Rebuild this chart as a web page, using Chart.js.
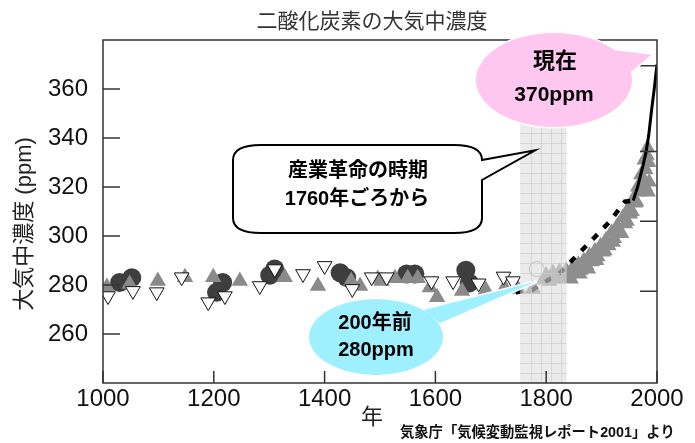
<!DOCTYPE html>
<html lang="ja">
<head>
<meta charset="utf-8">
<title>二酸化炭素の大気中濃度</title>
<script src="https://cdn.jsdelivr.net/npm/chart.js@4.4.1/dist/chart.umd.min.js"></script>
<style>
  html, body { margin: 0; padding: 0; background: #fff; }
  #wrap { width: 695px; height: 443px; }
</style>
</head>
<body>
<div id="wrap"><canvas id="co2Chart" width="695" height="443"></canvas></div>
<script>
// ====== DATA ======
const xTicks = [1000, 1200, 1400, 1600, 1800, 2000];
const yTicks = [260, 280, 300, 320, 340, 360];
const rightTicks = [277.5, 306, 334.5, 369.5];
const bandYears = [1753, 1837];

// ice core, dark circles
const darkYears = [1030, 1052, 1205, 1216, 1301, 1310, 1428, 1440, 1548, 1563, 1655, 1661];
const darkPpm = [281, 283, 277, 281, 284, 286.5, 285, 283, 284.5, 284.5, 286, 280.8];

// ice core, gray triangles
const grayYears = [1007, 1048, 1099, 1148, 1199, 1247, 1328, 1388, 1448, 1464, 1496, 1503, 1527, 1550, 1568, 1590, 1603, 1648, 1691, 1725, 1749, 1776];
const grayPpm = [279.2, 280.4, 281.6, 283.2, 283.2, 281.6, 283.2, 279.6, 281.6, 279.6, 282.4, 281.6, 282.8, 282.8, 282.8, 279, 275, 277.6, 278, 279, 278.4, 278.4];

// ice core, open down triangles
const downYears = [1009, 1054, 1097, 1142, 1190, 1220, 1283, 1310, 1361, 1400, 1450, 1485, 1512, 1593, 1632, 1678, 1723, 1740];
const downPpm = [275.5, 277.6, 277.1, 283.2, 273, 275.5, 279.6, 286.5, 284.5, 287.8, 278.4, 283.2, 283.2, 281.6, 281.6, 280.7, 283.5, 281.6];

// single open circle
const openYears = [1783];
const openPpm = [286.5];

// recent ice core, gray triangles (dense band)
const recentYears = [1795, 1800, 1806, 1812, 1818, 1824, 1830, 1836, 1842, 1845, 1848, 1853, 1858, 1861, 1863, 1868, 1873, 1876, 1878, 1883, 1888, 1891, 1893, 1898, 1903, 1906, 1908, 1913, 1918, 1921, 1923, 1928, 1933, 1936, 1938, 1943, 1946, 1948, 1952, 1955, 1957, 1961, 1963, 1965, 1968, 1971, 1974, 1977, 1980, 1983, 1985, 1986, 1984, 1982, 1979];
const recentPpm = [282, 284, 281.5, 285, 282.5, 285.5, 283, 286, 284.5, 282.5, 287, 285, 288.5, 284.5, 286, 290, 288, 286.5, 292, 289.5, 294, 290, 291.5, 296, 293.5, 294, 298.5, 296, 301.5, 297.5, 299, 304, 302, 301, 307.5, 305, 306, 311, 309, 310, 315, 313.5, 314, 320, 318, 325, 322, 331, 327, 336, 330, 322, 318, 333, 320];

// black marks (dashed) and direct observations (solid)
const blackDashYears = [1745, 1775, 1800, 1825, 1849, 1868, 1888, 1915, 1942, 1957];
const blackDashPpm = [277, 278, 281.5, 285, 290.6, 295, 299.6, 306, 314, 314.5];
const obsYears = [1957, 1965, 1970, 1975, 1980, 1985, 1990, 1995, 2000];
const obsPpm = [314.5, 320, 324.5, 329, 334, 341, 351, 360, 370];

const FONT = '"Liberation Sans", "Noto Sans CJK JP", sans-serif';

function pts(xs, ys) {
  return xs.map((v, i) => ({ x: v, y: ys[i] }));
}

// ====== DECORATIONS (band, frame, inner ticks, callouts, texts) ======
function bubble(ctx, cx, cy, rx, ry, b1, b2, tip, fill) {
  ctx.strokeStyle = '#ffffff';
  ctx.lineWidth = 3;
  ctx.beginPath();
  ctx.ellipse(cx, cy, rx, ry, 0, 0, Math.PI * 2);
  ctx.moveTo(b1[0], b1[1]);
  ctx.lineTo(tip[0], tip[1]);
  ctx.lineTo(b2[0], b2[1]);
  ctx.closePath();
  ctx.stroke();
  ctx.fillStyle = fill;
  ctx.beginPath();
  ctx.ellipse(cx, cy, rx, ry, 0, 0, Math.PI * 2);
  ctx.fill();
  ctx.beginPath();
  ctx.moveTo(b1[0], b1[1]);
  ctx.lineTo(tip[0], tip[1]);
  ctx.lineTo(b2[0], b2[1]);
  ctx.closePath();
  ctx.fill();
}

function text(ctx, str, x, y, size, weight, color, align) {
  ctx.font = (weight || '') + ' ' + size + 'px ' + FONT;
  ctx.fillStyle = color || '#111';
  ctx.textAlign = align || 'center';
  ctx.textBaseline = 'middle';
  ctx.fillText(str, x, y);
}

const decorations = {
  id: 'decorations',
  afterDatasetsDraw(chart) {
    const { ctx, chartArea: a, scales: { x, y } } = chart;
    ctx.save();

    // shaded period band with grid texture
    const bx0 = x.getPixelForValue(bandYears[0]);
    const bx1 = x.getPixelForValue(bandYears[1]);
    ctx.fillStyle = 'rgba(222,222,222,0.6)';
    ctx.fillRect(bx0, a.top, bx1 - bx0, a.bottom - a.top);
    ctx.strokeStyle = 'rgba(200,200,200,0.6)';
    ctx.lineWidth = 1;
    ctx.beginPath();
    for (let gx = bx0 + 11; gx < bx1 - 2; gx += 10) {
      ctx.moveTo(Math.round(gx) + 0.5, a.top);
      ctx.lineTo(Math.round(gx) + 0.5, a.bottom);
    }
    for (let gy = a.bottom - 10; gy > a.top; gy -= 10) {
      ctx.moveTo(bx0, Math.round(gy) + 0.5);
      ctx.lineTo(bx1, Math.round(gy) + 0.5);
    }
    ctx.stroke();

    // frame
    ctx.strokeStyle = '#333';
    ctx.lineWidth = 1.5;
    ctx.strokeRect(a.left, a.top, a.right - a.left, a.bottom - a.top);

    // inner ticks
    ctx.beginPath();
    yTicks.forEach(v => {
      const py = y.getPixelForValue(v);
      ctx.moveTo(a.left, py);
      ctx.lineTo(a.left + 17, py);
    });
    rightTicks.forEach(v => {
      const py = y.getPixelForValue(v);
      ctx.moveTo(a.right, py);
      ctx.lineTo(a.right - 17, py);
    });
    xTicks.forEach(v => {
      const px = x.getPixelForValue(v);
      ctx.moveTo(px, a.bottom);
      ctx.lineTo(px, a.bottom - 12);
    });
    ctx.stroke();
    ctx.restore();
  },
  afterDraw(chart) {
    const { ctx, scales: { x, y } } = chart;
    ctx.save();

    // industrial revolution callout
    const L = 233, R = 482, T = 145, B = 233, rx = 28, ry = 15;
    const tip = [x.getPixelForValue(1780), y.getPixelForValue(335)];
    ctx.beginPath();
    ctx.moveTo(L + rx, T);
    ctx.lineTo(R - rx, T);
    ctx.quadraticCurveTo(R, T, R, T + ry);
    ctx.lineTo(tip[0], tip[1]);
    ctx.lineTo(R, 180);
    ctx.lineTo(R, B - ry);
    ctx.quadraticCurveTo(R, B, R - rx, B);
    ctx.lineTo(L + rx, B);
    ctx.quadraticCurveTo(L, B, L, B - ry);
    ctx.lineTo(L, T + ry);
    ctx.quadraticCurveTo(L, T, L + rx, T);
    ctx.closePath();
    ctx.fillStyle = '#fff';
    ctx.fill();
    ctx.strokeStyle = '#000';
    ctx.lineWidth = 2;
    ctx.stroke();
    text(ctx, '産業革命の時期', 358, 171, 20, 'bold', '#000');
    text(ctx, '1760年ごろから', 357, 199, 20, 'bold', '#000');

    // "now" bubble
    bubble(ctx, 554, 80, 78, 47, [612, 50], [628, 74],
      [x.getPixelForValue(1990), y.getPixelForValue(374)], '#ffc6ef');
    text(ctx, '現在', 555, 62, 22, 'bold', '#000');
    text(ctx, '370ppm', 554, 95, 21, 'bold', '#000');

    // "200 years ago" bubble
    bubble(ctx, 376, 337, 67, 38, [424, 310], [440, 323],
      [x.getPixelForValue(1783), y.getPixelForValue(281.5)], '#9ef0ff');
    text(ctx, '200年前', 375, 323, 20, 'bold', '#000');
    text(ctx, '280ppm', 376, 350, 20, 'bold', '#000');

    // titles and notes
    text(ctx, '二酸化炭素の大気中濃度', 372, 22, 21, '', '#333');
    text(ctx, '年', 372, 418, 22, '', '#222');
    text(ctx, '気象庁「気候変動監視レポート2001」より', 400, 433, 14.3, 'bold', '#111', 'left');
    ctx.save();
    ctx.translate(25, 224);
    ctx.rotate(-Math.PI / 2);
    text(ctx, '大気中濃度 (ppm)', 0, 0, 22, '', '#222');
    ctx.restore();

    ctx.restore();
  }
};

// ====== CHART ======
const ctx = document.getElementById('co2Chart').getContext('2d');

const co2Chart = new Chart(ctx, {
  type: 'scatter',
  data: {
    datasets: [
      {
        label: 'obs',
        data: pts(obsYears, obsPpm),
        showLine: true,
        borderColor: '#000',
        borderWidth: 3,
        pointRadius: 0
      },
      {
        label: 'black',
        data: pts(blackDashYears, blackDashPpm),
        showLine: true,
        borderColor: '#000',
        borderWidth: 4.5,
        borderDash: [7, 9],
        pointRadius: 0
      },
      {
        label: 'open',
        data: pts(openYears, openPpm),
        pointStyle: 'circle',
        pointRadius: 7.5,
        backgroundColor: 'rgba(255,255,255,0.7)',
        borderColor: '#999',
        borderWidth: 1
      },
      {
        label: 'down',
        data: pts(downYears, downPpm),
        pointStyle: 'triangle',
        rotation: 180,
        pointRadius: 8.5,
        backgroundColor: '#fff',
        borderColor: '#111',
        borderWidth: 1
      },
      {
        label: 'gray',
        data: pts(grayYears, grayPpm),
        pointStyle: 'triangle',
        pointRadius: 9.5,
        backgroundColor: '#8a8a8a',
        borderWidth: 0
      },
      {
        label: 'recent',
        data: pts(recentYears, recentPpm),
        pointStyle: 'triangle',
        pointRadius: 9,
        backgroundColor: '#8e8e8e',
        borderWidth: 0
      },
      {
        label: 'dark',
        data: pts(darkYears, darkPpm),
        pointStyle: 'circle',
        pointRadius: 9.5,
        backgroundColor: '#3e3e3e',
        borderWidth: 0
      }
    ]
  },
  options: {
    responsive: false,
    animation: false,
    devicePixelRatio: 1,
    layout: { padding: { top: 40, right: 38, left: 0, bottom: 0 } },
    plugins: {
      legend: { display: false },
      tooltip: { enabled: false }
    },
    scales: {
      x: {
        type: 'linear',
        min: 1000,
        max: 2000,
        afterFit(s) { s.height = 60; },
        afterBuildTicks(s) { s.ticks = xTicks.map(v => ({ value: v })); },
        ticks: {
          font: { family: FONT, size: 24 },
          color: '#111',
          padding: 2,
          maxRotation: 0,
          autoSkip: false,
          callback: v => String(v)
        },
        grid: { display: false, drawTicks: false },
        border: { display: false }
      },
      y: {
        min: 240,
        max: 380,
        afterFit(s) { s.width = 103; },
        afterBuildTicks(s) { s.ticks = yTicks.map(v => ({ value: v })); },
        ticks: {
          font: { family: FONT, size: 24 },
          color: '#111',
          padding: 15,
          callback: v => String(v)
        },
        grid: { display: false, drawTicks: false },
        border: { display: false }
      }
    }
  },
  plugins: [decorations]
});
</script>
</body>
</html>
